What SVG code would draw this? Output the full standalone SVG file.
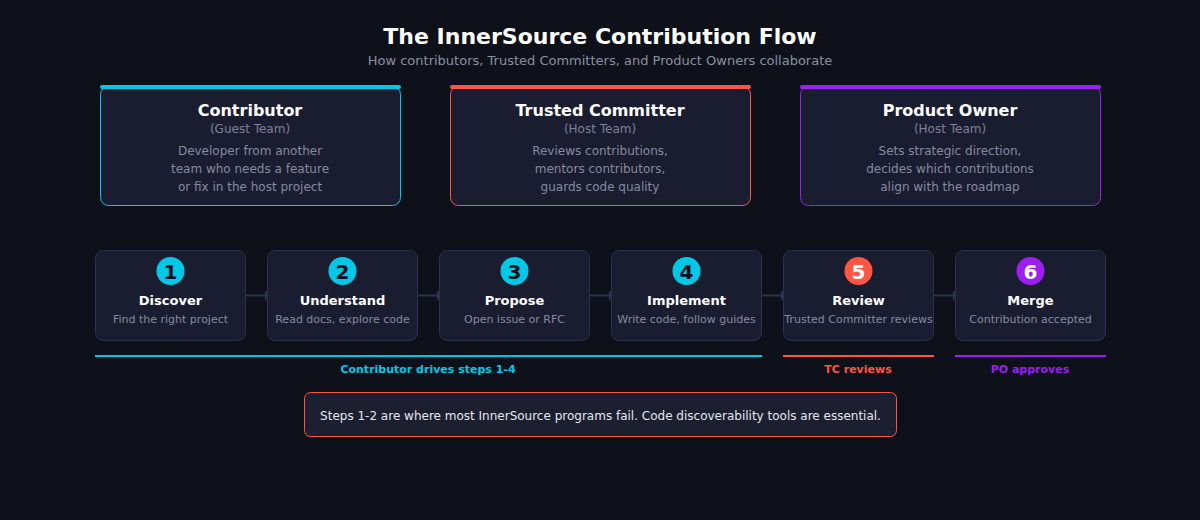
<svg xmlns="http://www.w3.org/2000/svg" width="1200" height="520" viewBox="0 0 1200 520">
<defs>
<style>
text{font-family:"DejaVu Sans","Liberation Sans",sans-serif;text-anchor:middle}
.title{font-size:22px;font-weight:bold;fill:#ffffff}
.sub{font-size:13px;fill:#8b8fa6}
.card{fill:#1a1d2f}
.ct{font-size:16px;font-weight:bold;fill:#ffffff}
.cs{font-size:12px;fill:#7d8198}
.cd{font-size:12px;fill:#868aa0}
.step{fill:#1a1d2f;stroke:#2d3150;stroke-width:1}
.st{font-size:13px;font-weight:bold;fill:#ffffff}
.sd{font-size:11px;fill:#868aa0}
.num{font-size:20px;font-weight:bold}
.conn{stroke:#2d3350;stroke-width:2;fill:none}
.lbl{font-size:11px;font-weight:bold}
</style>
<marker id="ah" viewBox="0 0 8 10" refX="8" refY="5" markerWidth="8" markerHeight="10" markerUnits="userSpaceOnUse" orient="auto">
<path d="M0,0 L8,5 L0,10 Z" fill="#2d3350"/>
</marker>
</defs>
<rect width="1200" height="520" fill="#0e1119"/>
<text x="600" y="44" class="title">The InnerSource Contribution Flow</text>
<text x="600" y="65" class="sub">How contributors, Trusted Committers, and Product Owners collaborate</text>

<g id="role-contributor">
<rect x="100.5" y="86.5" width="300" height="119" rx="8" class="card" stroke="#00c8e6"/>
<rect x="100" y="85" width="301" height="4" rx="2" fill="#00c8e6"/>
<text x="250" y="116" class="ct">Contributor</text>
<text x="250" y="133" class="cs">(Guest Team)</text>
<text x="250" y="155" class="cd">Developer from another</text>
<text x="250" y="173" class="cd">team who needs a feature</text>
<text x="250" y="191" class="cd">or fix in the host project</text>
</g>
<g id="role-tc">
<rect x="450.5" y="86.5" width="300" height="119" rx="8" class="card" stroke="#ff5544"/>
<rect x="450" y="85" width="301" height="4" rx="2" fill="#ff5544"/>
<text x="600" y="116" class="ct">Trusted Committer</text>
<text x="600" y="133" class="cs">(Host Team)</text>
<text x="600" y="155" class="cd">Reviews contributions,</text>
<text x="600" y="173" class="cd">mentors contributors,</text>
<text x="600" y="191" class="cd">guards code quality</text>
</g>
<g id="role-po">
<rect x="800.5" y="86.5" width="300" height="119" rx="8" class="card" stroke="#9d1ff0"/>
<rect x="800" y="85" width="301" height="4" rx="2" fill="#9d1ff0"/>
<text x="950" y="116" class="ct">Product Owner</text>
<text x="950" y="133" class="cs">(Host Team)</text>
<text x="950" y="155" class="cd">Sets strategic direction,</text>
<text x="950" y="173" class="cd">decides which contributions</text>
<text x="950" y="191" class="cd">align with the roadmap</text>
</g>

<g id="connectors">
<line x1="246" y1="295.5" x2="273" y2="295.5" class="conn" marker-end="url(#ah)"/>
<line x1="418" y1="295.5" x2="445" y2="295.5" class="conn" marker-end="url(#ah)"/>
<line x1="590" y1="295.5" x2="617" y2="295.5" class="conn" marker-end="url(#ah)"/>
<line x1="762" y1="295.5" x2="789" y2="295.5" class="conn" marker-end="url(#ah)"/>
<line x1="934" y1="295.5" x2="961" y2="295.5" class="conn" marker-end="url(#ah)"/>
</g>

<g id="step1">
<rect x="95.5" y="250.5" width="150" height="90" rx="8" class="step"/>
<circle cx="170.5" cy="271" r="14" fill="#00c8e6"/>
<text x="170.5" y="279" class="num" fill="#0e1119">1</text>
<text x="170.5" y="305" class="st">Discover</text>
<text x="170.5" y="323" class="sd">Find the right project</text>
</g>
<g id="step2">
<rect x="267.5" y="250.5" width="150" height="90" rx="8" class="step"/>
<circle cx="342.5" cy="271" r="14" fill="#00c8e6"/>
<text x="342.5" y="279" class="num" fill="#0e1119">2</text>
<text x="342.5" y="305" class="st">Understand</text>
<text x="342.5" y="323" class="sd">Read docs, explore code</text>
</g>
<g id="step3">
<rect x="439.5" y="250.5" width="150" height="90" rx="8" class="step"/>
<circle cx="514.5" cy="271" r="14" fill="#00c8e6"/>
<text x="514.5" y="279" class="num" fill="#0e1119">3</text>
<text x="514.5" y="305" class="st">Propose</text>
<text x="514.5" y="323" class="sd">Open issue or RFC</text>
</g>
<g id="step4">
<rect x="611.5" y="250.5" width="150" height="90" rx="8" class="step"/>
<circle cx="686.5" cy="271" r="14" fill="#00c8e6"/>
<text x="686.5" y="279" class="num" fill="#0e1119">4</text>
<text x="686.5" y="305" class="st">Implement</text>
<text x="686.5" y="323" class="sd">Write code, follow guides</text>
</g>
<g id="step5">
<rect x="783.5" y="250.5" width="150" height="90" rx="8" class="step"/>
<circle cx="858.5" cy="271" r="14" fill="#ff5544"/>
<text x="858.5" y="279" class="num" fill="#ffffff">5</text>
<text x="858.5" y="305" class="st">Review</text>
<text x="858.5" y="323" class="sd">Trusted Committer reviews</text>
</g>
<g id="step6">
<rect x="955.5" y="250.5" width="150" height="90" rx="8" class="step"/>
<circle cx="1030.5" cy="271" r="14" fill="#9d1ff0"/>
<text x="1030.5" y="279" class="num" fill="#ffffff">6</text>
<text x="1030.5" y="305" class="st">Merge</text>
<text x="1030.5" y="323" class="sd">Contribution accepted</text>
</g>

<g id="phases">
<rect x="95" y="355" width="667" height="2" fill="#00c8e6"/>
<text x="428" y="373" class="lbl" fill="#00c8e6">Contributor drives steps 1-4</text>
<rect x="783" y="355" width="151" height="2" fill="#ff5544"/>
<text x="858" y="373" class="lbl" fill="#ff5544">TC reviews</text>
<rect x="955" y="355" width="151" height="2" fill="#9d1ff0"/>
<text x="1030" y="373" class="lbl" fill="#9d1ff0">PO approves</text>
</g>

<g id="note">
<rect x="304.5" y="392.5" width="592" height="44" rx="6" fill="#1c1f30" stroke="#ff5544"/>
<text x="600.5" y="420" font-size="12" fill="#e6e6ee">Steps 1-2 are where most InnerSource programs fail. Code discoverability tools are essential.</text>
</g>
</svg>
